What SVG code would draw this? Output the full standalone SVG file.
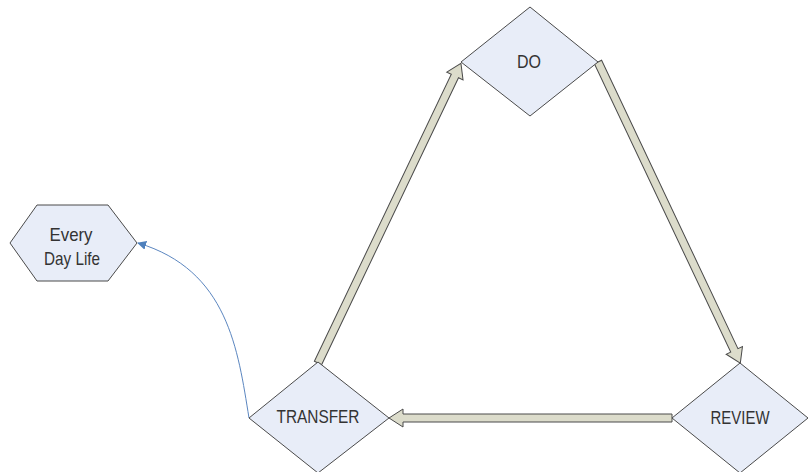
<svg xmlns="http://www.w3.org/2000/svg" width="810" height="472" viewBox="0 0 810 472">
  <defs>
    <style>
      .shape { fill: #e8edf8; stroke: #4a4a4a; stroke-width: 1; }
      .label { font-family: "Liberation Sans Narrow", "Liberation Sans", Arial, sans-serif; font-size: 19px; fill: #333333; text-anchor: middle; }
      .block { fill: #dcdccb; stroke: #4a4a4a; stroke-width: 1; stroke-linejoin: miter; }
      .link { fill: none; stroke: #5b86c0; stroke-width: 1; }
    </style>
    <marker id="blueHead" viewBox="0 0 10 10" refX="9" refY="5" markerWidth="9" markerHeight="9" markerUnits="userSpaceOnUse" orient="auto">
      <path d="M0,0 L10,5 L0,10 Z" fill="#4f81bd"/>
    </marker>
  </defs>
  <rect width="810" height="472" fill="#ffffff"/>

  <!-- connectors -->
  <g id="connectors">
    <!-- TRANSFER -> DO -->
    <path class="block" transform="translate(318,363) rotate(-64.5)" d="M0,-4 L318,-4 L318,-9 L332,0 L318,9 L318,4 L0,4 Z"/>
    <!-- DO -> REVIEW -->
    <path class="block" transform="translate(598,62) rotate(64.7)" d="M0,-4 L319,-4 L319,-9 L333,0 L319,9 L319,4 L0,4 Z"/>
    <!-- REVIEW -> TRANSFER -->
    <path class="block" transform="translate(672,418) rotate(180)" d="M0,-4 L269,-4 L269,-9 L283,0 L269,9 L269,4 L0,4 Z"/>
    <!-- TRANSFER -> Every Day Life -->
    <path class="link" d="M249,418 C238,350 228,270 138,243" marker-end="url(#blueHead)"/>
  </g>

  <g id="node-do">
    <polygon class="shape" points="530,7 598,62 530,116 461,62"/>
    <text class="label" x="529" y="68" textLength="24" lengthAdjust="spacingAndGlyphs">DO</text>
  </g>

  <g id="node-transfer">
    <polygon class="shape" points="318,362 389,418 318,473 249,418"/>
    <text class="label" x="318" y="423" textLength="83" lengthAdjust="spacingAndGlyphs">TRANSFER</text>
  </g>

  <g id="node-review">
    <polygon class="shape" points="740,363 808,418 740,473 672,418"/>
    <text class="label" x="740" y="424" textLength="59" lengthAdjust="spacingAndGlyphs">REVIEW</text>
  </g>

  <g id="node-everyday">
    <polygon class="shape" points="37,205 108,205 137,243 108,281 37,281 10,243"/>
    <text class="label" x="71" y="241" textLength="43" lengthAdjust="spacingAndGlyphs">Every</text>
    <text class="label" x="72" y="265" textLength="56" lengthAdjust="spacingAndGlyphs">Day Life</text>
  </g>
</svg>
